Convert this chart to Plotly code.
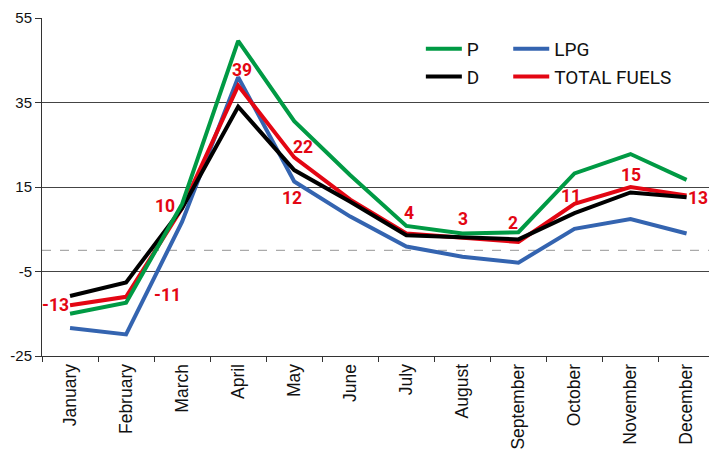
import plotly.graph_objects as go

# Monthly change (%) by fuel type
months = ["January", "February", "March", "April", "May", "June",
          "July", "August", "September", "October", "November", "December"]
petrol = [-15, -12.4, 11, 49.6, 30.6, 17.8, 5.8, 4.0, 4.3, 18.2, 22.8, 16.7]
diesel = [-10.8, -7.6, 10, 34, 19, 11.5, 3.6, 3.1, 2.6, 8.8, 13.7, 12.6]
lpg = [-18.4, -19.9, 6.8, 41, 16.3, 8, 0.9, -1.5, -2.9, 5.1, 7.4, 4.0]
total = [-13, -11, 10, 39, 22, 12, 4, 3, 2, 11, 15, 13]

y_ticks = [55, 35, 15, -5, -25]
y_tick_text = ["55", "35", "15", "-5", "-25"]

# label offsets (px) for the TOTAL FUELS values
label_dx = [-15, 41, -17, 4, 9, -58, 3, 1, -5, -3, 0, 11]
label_dy = [0, 2, 2, 16, 10, 2, 20, 19, 19, 8, 12, -3]

GREEN = "#009a44"
BLACK = "#000000"
BLUE = "#3464b0"
RED = "#e30613"

fig = go.Figure()

# drawing order: LPG under, petrol on top
fig.add_trace(go.Scatter(x=months, y=lpg, name="LPG", mode="lines",
                         line=dict(color=BLUE, width=4), legend="legend2",
                         legendrank=1))
fig.add_trace(go.Scatter(x=months, y=total, name="TOTAL FUELS", mode="lines",
                         line=dict(color=RED, width=4), legend="legend2",
                         legendrank=2))
fig.add_trace(go.Scatter(x=months, y=diesel, name="D", mode="lines",
                         line=dict(color=BLACK, width=4), legend="legend",
                         legendrank=2))
fig.add_trace(go.Scatter(x=months, y=petrol, name="P", mode="lines",
                         line=dict(color=GREEN, width=4), legend="legend",
                         legendrank=1))

for m, v, dx, dy in zip(months, total, label_dx, label_dy):
    fig.add_annotation(x=m, y=v, text=f"{v:g}", showarrow=False,
                       xshift=dx, yshift=dy,
                       font=dict(family="Roboto", size=17.5, color=RED, weight="bold"))

fig.add_shape(type="line", xref="paper", x0=0, x1=1, yref="y", y0=0, y1=0,
              line=dict(color="#aaaaaa", width=1.2, dash="dash"), layer="below")

legend_style = dict(font=dict(family="Roboto", size=19, color="#111111"),
                    bgcolor="rgba(0,0,0,0)", tracegroupgap=0,
                    xanchor="left", yanchor="top", itemwidth=36)

fig.update_layout(
    width=709, height=450,
    margin=dict(l=42, r=0, t=18, b=94),
    plot_bgcolor="white", paper_bgcolor="white",
    showlegend=True,
    legend=dict(x=0.568, y=0.965, **legend_style),
    legend2=dict(x=0.699, y=0.965, **legend_style),
    xaxis=dict(type="category", range=[-0.5, 11.4], showgrid=False,
               automargin=False,
               showline=True, linecolor="#333333", linewidth=1,
               ticks="outside", tickson="boundaries", ticklen=5,
               tickcolor="#333333", tickangle=-90,
               tickfont=dict(family="Liberation Sans", size=17.5, color="#111111")),
    yaxis=dict(range=[-25, 55], tickvals=y_ticks, ticktext=y_tick_text,
               automargin=False,
               showgrid=True, gridcolor="#444444", gridwidth=1, zeroline=False,
               showline=True, linecolor="#333333", linewidth=1,
               ticks="outside", ticklen=6, tickcolor="#333333",
               tickfont=dict(family="Liberation Sans", size=15, color="#111111")),
)

fig.write_html("out.html")
